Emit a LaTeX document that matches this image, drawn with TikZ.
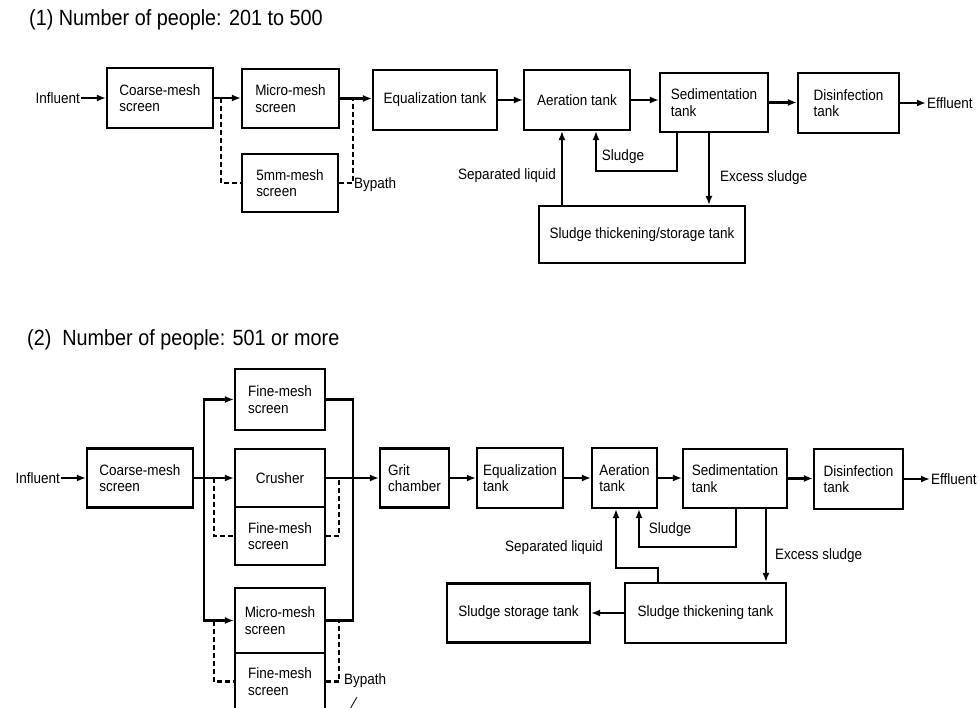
\documentclass[tikz,border=0pt]{standalone}
\usepackage{fontspec}
\setmainfont{Liberation Sans}[FakeStretch=0.9]
\usetikzlibrary{arrows.meta, calc}
\tikzset{
    tank/.style={draw=black, line width=2.1pt, inner sep=0pt, align=left, font=\fontsize{15}{16.5}\selectfont},
    flow/.style={line width=2.1pt, -{Latex[length=9pt,width=7pt]}},
    pipe/.style={line width=2.1pt},
    bypass/.style={line width=2.1pt, dash pattern=on 5pt off 3pt},
    tag/.style={font=\fontsize{15}{16.5}\selectfont, inner sep=1pt},
    heading/.style={font=\fontsize{22}{25}\selectfont, inner sep=0pt, anchor=west}
}

\begin{document}
\begin{tikzpicture}[x=1pt, y=-1pt]
    \useasboundingbox (0,0) rectangle (980,707);
    \clip (0,0) rectangle (980,707);

    % (1) small plant
    \node[heading] (h1) at (29,20) {(1) Number of people: 201 to 500};

    \node[tag, anchor=east] (in1) at (81,98) {Influent};
    \node[tank, minimum width=106pt, minimum height=60pt] (coarse1) at (160,98) {Coarse-mesh\\screen};
    \node[tank, minimum width=97pt, minimum height=59pt] (micro1) at (290.5,98.5) {Micro-mesh\\screen};
    \node[tank, minimum width=96pt, minimum height=58pt] (mm5) at (290,183) {5mm-mesh\\screen};
    \node[tank, minimum width=124pt, minimum height=60pt] (equal1) at (435,100) {Equalization tank};
    \node[tank, minimum width=106pt, minimum height=60pt] (aer1) at (577,100) {Aeration tank};
    \node[tank, minimum width=108pt, minimum height=59pt] (sed1) at (714,102.5) {Sedimentation\\tank};
    \node[tank, minimum width=101pt, minimum height=60pt] (dis1) at (848.5,103) {Disinfection\\tank};
    \node[tag, anchor=west] (eff1) at (926,103) {Effluent};
    \node[tank, minimum width=206pt, minimum height=57pt] (thick1) at (642,234.5) {Sludge thickening/storage tank};

    \draw[flow] (in1) -- (coarse1);
    \draw[flow] (coarse1.east) -- (coarse1.east -| micro1.west);
    \draw[flow] (micro1.east) -- (micro1.east -| equal1.west);
    \draw[flow] (equal1.east) -- (equal1.east -| aer1.west);
    \draw[flow] (aer1.east) -- (aer1.east -| sed1.west);
    \draw[flow] (sed1.east) -- (sed1.east -| dis1.west);
    \draw[flow] (dis1) -- (eff1);

    % bypath round the micro-mesh screen
    \coordinate (b1) at ($(coarse1.east)+(7,0)$);
    \coordinate (b2) at ($(micro1.east)+(13,0)$);
    \draw[bypass] (b1) |- (mm5.west);
    \draw[bypass] (mm5.east) -| (b2);
    \node[tag, anchor=west] (bp1) at (353,185) {Bypath};

    % sludge lines
    \coordinate (r1) at ($(sed1.south west)+(18,0)$);
    \coordinate (s1) at (596,171);
    \draw[flow] (r1) |- (s1) -- (s1 |- aer1.south);
    \node[tag] (sl1) at (623,157) {Sludge};

    \coordinate (x1) at ($(sed1.south west)+(50,0)$);
    \draw[flow] (x1) -- (x1 |- thick1.north);
    \node[tag, anchor=west] (ex1) at (719,178) {Excess sludge};

    \coordinate (q1) at ($(thick1.north west)+(24,0)$);
    \draw[flow] (q1) -- (q1 |- aer1.south);
    \node[tag, anchor=east] (sep1) at (557,176) {Separated liquid};

    % (2) larger plant
    \node[heading] (h2) at (27,340) {(2)\ \ Number of people: 501 or more};

    \node[tag, anchor=east] (in2) at (61,478) {Influent};
    \node[tank, minimum width=106pt, minimum height=59pt] (coarse2) at (140,478) {Coarse-mesh\\screen};
    \node[tank, minimum width=90pt, minimum height=61pt] (fine2a) at (280,399.5) {Fine-mesh\\screen};
    \node[tank, minimum width=90pt, minimum height=58pt] (crusher) at (280,478) {Crusher};
    \node[tank, minimum width=90pt, minimum height=58pt] (fine2b) at (280,536) {Fine-mesh\\screen};
    \node[tank, minimum width=90pt, minimum height=65pt] (micro2) at (280,620.5) {Micro-mesh\\screen};
    \node[tank, minimum width=90pt, minimum height=57pt] (fine2c) at (280,681.5) {Fine-mesh\\screen};
    \node[tank, minimum width=69pt, minimum height=59pt] (grit) at (414.5,478) {Grit\\chamber};
    \node[tank, minimum width=86pt, minimum height=60pt] (equal2) at (520,478) {Equalization\\tank};
    \node[tank, minimum width=65pt, minimum height=60pt] (aer2) at (624.5,478) {Aeration\\tank};
    \node[tank, minimum width=104pt, minimum height=59pt] (sed2) at (735,478.5) {Sedimentation\\tank};
    \node[tank, minimum width=89pt, minimum height=60pt] (dis2) at (858.5,479) {Disinfection\\tank};
    \node[tag, anchor=west] (eff2) at (930,479) {Effluent};
    \node[tank, minimum width=161pt, minimum height=60pt] (thick2) at (705.5,613) {Sludge thickening tank};
    \node[tank, minimum width=143pt, minimum height=59pt] (store2) at (518.5,613) {Sludge storage tank};

    \draw[flow] (in2) -- (coarse2);
    \draw[flow] (coarse2.east) -- (crusher.west);
    \coordinate (sp) at ($(coarse2.east)+(10,0)$);
    \draw[flow] (sp) |- (fine2a.west);
    \draw[flow] (sp) |- (micro2.west);
    \coordinate (mg) at ($(crusher.east)+(27,0)$);
    \draw[pipe] (fine2a.east) -| (mg);
    \draw[pipe] (micro2.east) -| (mg);
    \draw[flow] (crusher.east) -- (crusher.east -| grit.west);
    \draw[flow] (grit.east) -- (grit.east -| equal2.west);
    \draw[flow] (equal2.east) -- (equal2.east -| aer2.west);
    \draw[flow] (aer2.east) -- (aer2.east -| sed2.west);
    \draw[flow] (sed2.east) -- (sed2.east -| dis2.west);
    \draw[flow] (dis2) -- (eff2);

    % bypaths
    \coordinate (b3) at ($(coarse2.east)+(20,0)$);
    \coordinate (b4) at ($(crusher.east)+(13,0)$);
    \draw[bypass] (b3) |- (fine2b.west);
    \draw[bypass] (fine2b.east) -| (b4);
    \coordinate (b5) at (b3 |- micro2.west);
    \coordinate (b6) at (b4 |- micro2.east);
    \draw[bypass] (b5) |- (fine2c.west);
    \draw[bypass] (fine2c.east) -| (b6);
    \node[tag, anchor=west] (bp2) at (343,681) {Bypath};
    \draw[line width=0.8pt] (357,697) -- (350,709);

    % sludge lines
    \coordinate (r2) at ($(sed2.south west)+(54,0)$);
    \coordinate (s2) at (639,547);
    \draw[flow] (r2) |- (s2) -- (s2 |- aer2.south);
    \node[tag] (sl2) at (670,530) {Sludge};

    \coordinate (x2) at ($(sed2.south west)+(84,0)$);
    \draw[flow] (x2) -- (x2 |- thick2.north);
    \node[tag, anchor=west] (ex2) at (774,556) {Excess sludge};

    \coordinate (q2) at ($(thick2.north west)+(34,0)$);
    \coordinate (t2) at (616,568);
    \draw[flow] (q2) |- (t2) -- (t2 |- aer2.south);
    \node[tag, anchor=east] (sep2) at (604,548) {Separated liquid};

    \draw[flow] (thick2) -- (store2);
\end{tikzpicture}
\end{document}
